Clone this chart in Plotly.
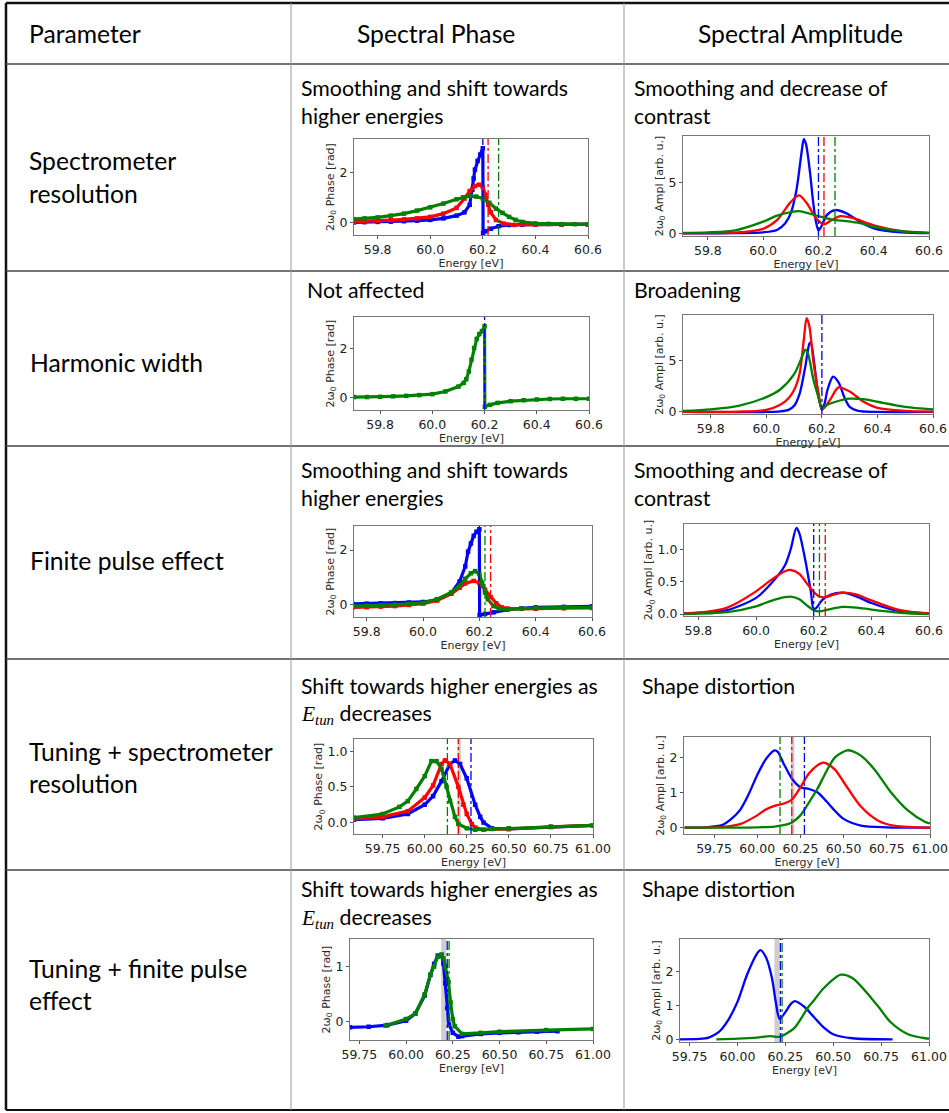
import plotly.graph_objects as go

W, H = 949, 1113
BLUE, RED, GREEN = "#0000ff", "#ff0000", "#008000"

# ---------------- data ----------------
# Row 1 : spectrometer resolution
p1_blue_x = [59.71, 59.75, 59.8, 59.85, 59.9, 59.95, 60.0, 60.05, 60.1, 60.13, 60.15, 60.16, 60.165, 60.17, 60.18, 60.19, 60.2, 60.201, 60.21, 60.23, 60.26, 60.3, 60.35, 60.4, 60.5, 60.6]
p1_blue_y = [0.0, 0.01, 0.02, 0.03, 0.05, 0.07, 0.1, 0.16, 0.27, 0.4, 0.7, 1.3, 1.75, 2.1, 2.45, 2.7, 2.95, -0.42, -0.35, -0.25, -0.15, -0.1, -0.09, -0.08, -0.08, -0.08]
p1_red_x = [59.71, 59.75, 59.8, 59.85, 59.9, 59.95, 60.0, 60.05, 60.1, 60.13, 60.15, 60.17, 60.185, 60.2, 60.21, 60.22, 60.23, 60.25, 60.28, 60.32, 60.4, 60.5, 60.6]
p1_red_y = [0.03, 0.04, 0.06, 0.09, 0.12, 0.16, 0.22, 0.35, 0.58, 0.95, 1.25, 1.45, 1.5, 1.4, 1.1, 0.7, 0.4, 0.1, -0.05, -0.1, -0.08, -0.08, -0.08]
p1_green_x = [59.71, 59.75, 59.8, 59.85, 59.9, 59.95, 60.0, 60.05, 60.1, 60.125, 60.15, 60.175, 60.2, 60.225, 60.25, 60.275, 60.3, 60.325, 60.35, 60.4, 60.45, 60.5, 60.55, 60.6]
p1_green_y = [0.13, 0.16, 0.2, 0.27, 0.35, 0.47, 0.6, 0.75, 0.92, 1.0, 1.05, 1.03, 0.95, 0.78, 0.55, 0.38, 0.22, 0.1, 0.02, -0.04, -0.06, -0.07, -0.07, -0.07]
p1_vlines = [60.2, 60.22, 60.26]

p2_blue_x = [59.71, 59.9, 60.0, 60.05, 60.08, 60.1, 60.12, 60.14, 60.147, 60.155, 60.17, 60.18, 60.19, 60.2, 60.21, 60.23, 60.26, 60.3, 60.35, 60.4, 60.5, 60.6]
p2_blue_y = [0.0, 0.02, 0.1, 0.33, 1.0, 2.0, 4.2, 8.2, 9.3, 8.8, 5.9, 3.3, 1.3, 0.3, 0.65, 1.8, 2.3, 2.0, 1.15, 0.5, 0.1, 0.02]
p2_red_x = [59.71, 59.8, 59.9, 60.0, 60.05, 60.1, 60.13, 60.16, 60.19, 60.22, 60.25, 60.28, 60.32, 60.4, 60.5, 60.6]
p2_red_y = [0.0, 0.02, 0.07, 0.45, 1.3, 3.1, 3.75, 2.9, 1.55, 0.9, 1.35, 1.7, 1.55, 0.8, 0.22, 0.05]
p2_green_x = [59.71, 59.8, 59.9, 60.0, 60.05, 60.1, 60.13, 60.2, 60.25, 60.3, 60.35, 60.4, 60.5, 60.6]
p2_green_y = [0.05, 0.1, 0.3, 1.15, 1.75, 2.1, 2.2, 1.7, 1.35, 1.2, 1.0, 0.65, 0.22, 0.05]
p2_vlines = [60.2, 60.22, 60.26]

# Row 2 : harmonic width
p3_green_x = [59.7, 59.75, 59.8, 59.85, 59.9, 59.95, 60.0, 60.05, 60.1, 60.12, 60.13, 60.14, 60.15, 60.16, 60.17, 60.18, 60.19, 60.2, 60.201, 60.22, 60.25, 60.3, 60.35, 60.4, 60.45, 60.5, 60.55, 60.6]
p3_green_y = [0.02, 0.02, 0.03, 0.05, 0.07, 0.1, 0.14, 0.25, 0.45, 0.6, 0.75, 1.07, 1.55, 2.03, 2.4, 2.6, 2.72, 2.92, -0.38, -0.3, -0.22, -0.15, -0.11, -0.08, -0.06, -0.05, -0.05, -0.05]
p3_vlines = [60.2]

p4_blue_x = [59.7, 60.0, 60.05, 60.08, 60.1, 60.12, 60.14, 60.155, 60.16, 60.17, 60.18, 60.19, 60.2, 60.21, 60.22, 60.24, 60.26, 60.28, 60.3, 60.33, 60.4, 60.6]
p4_blue_y = [0.0, 0.0, 0.05, 0.2, 0.6, 1.8, 4.4, 6.7, 6.8, 5.3, 3.1, 1.2, 0.2, 0.85, 2.15, 3.45, 2.9, 1.5, 0.5, 0.1, 0.0, 0.0]
p4_red_x = [59.7, 59.9, 60.0, 60.05, 60.08, 60.1, 60.12, 60.135, 60.145, 60.155, 60.17, 60.19, 60.2, 60.21, 60.23, 60.26, 60.3, 60.35, 60.4, 60.5, 60.6]
p4_red_y = [0.0, 0.03, 0.2, 0.7, 1.35, 2.15, 3.8, 7.1, 9.2, 8.4, 4.8, 1.5, 0.25, 0.45, 1.2, 2.4, 2.0, 1.0, 0.4, 0.1, 0.03]
p4_green_x = [59.7, 59.8, 59.9, 60.0, 60.05, 60.1, 60.13, 60.14, 60.15, 60.17, 60.19, 60.2, 60.22, 60.25, 60.3, 60.35, 60.4, 60.5, 60.6]
p4_green_y = [0.1, 0.26, 0.6, 1.45, 2.2, 3.7, 5.5, 6.1, 5.7, 3.1, 1.2, 0.35, 0.7, 1.0, 1.3, 1.25, 1.0, 0.5, 0.25]
p4_vlines = [60.2]

# Row 3 : finite pulse effect
p5_blue_x = [59.75, 59.8, 59.85, 59.9, 59.95, 60.0, 60.05, 60.1, 60.13, 60.15, 60.16, 60.17, 60.18, 60.19, 60.2, 60.201, 60.22, 60.25, 60.3, 60.35, 60.4, 60.5, 60.6]
p5_blue_y = [0.03, 0.04, 0.05, 0.06, 0.08, 0.1, 0.18, 0.42, 0.85, 1.4, 1.94, 2.24, 2.52, 2.67, 2.76, -0.38, -0.34, -0.28, -0.18, -0.13, -0.1, -0.08, -0.06]
p5_red_x = [59.75, 59.8, 59.85, 59.9, 59.95, 60.0, 60.05, 60.1, 60.13, 60.15, 60.18, 60.2, 60.22, 60.24, 60.26, 60.28, 60.3, 60.35, 60.4, 60.5, 60.6]
p5_red_y = [-0.1, -0.09, -0.07, -0.05, -0.01, 0.04, 0.15, 0.4, 0.62, 0.78, 0.87, 0.8, 0.55, 0.28, 0.05, -0.1, -0.14, -0.15, -0.15, -0.13, -0.12]
p5_green_x = [59.75, 59.8, 59.85, 59.9, 59.95, 60.0, 60.05, 60.1, 60.13, 60.15, 60.17, 60.185, 60.2, 60.21, 60.22, 60.23, 60.25, 60.27, 60.3, 60.35, 60.4, 60.5, 60.6]
p5_green_y = [-0.05, -0.04, -0.02, 0.0, 0.03, 0.07, 0.2, 0.45, 0.7, 0.95, 1.15, 1.23, 1.12, 0.8, 0.45, 0.2, -0.05, -0.15, -0.17, -0.14, -0.12, -0.1, -0.1]
p5_vlines = [60.2, 60.22, 60.24]

p6_blue_x = [59.75, 59.8, 59.9, 60.0, 60.05, 60.1, 60.12, 60.14, 60.15, 60.17, 60.19, 60.2, 60.21, 60.23, 60.26, 60.3, 60.35, 60.4, 60.5, 60.6]
p6_blue_y = [0.01, 0.02, 0.06, 0.25, 0.46, 0.75, 1.0, 1.33, 1.25, 0.85, 0.35, 0.07, 0.1, 0.22, 0.3, 0.33, 0.27, 0.17, 0.04, 0.01]
p6_red_x = [59.75, 59.8, 59.9, 60.0, 60.05, 60.1, 60.12, 60.15, 60.18, 60.2, 60.22, 60.24, 60.27, 60.3, 60.35, 60.4, 60.5, 60.6]
p6_red_y = [0.01, 0.02, 0.1, 0.35, 0.52, 0.66, 0.68, 0.62, 0.45, 0.34, 0.27, 0.26, 0.3, 0.33, 0.3, 0.21, 0.06, 0.01]
p6_green_x = [59.75, 59.9, 60.0, 60.05, 60.1, 60.12, 60.15, 60.18, 60.2, 60.22, 60.25, 60.3, 60.35, 60.4, 60.5, 60.6]
p6_green_y = [0.0, 0.03, 0.12, 0.2, 0.26, 0.27, 0.23, 0.12, 0.06, 0.04, 0.07, 0.11, 0.1, 0.07, 0.02, 0.0]
p6_vlines = [60.2, 60.22, 60.24]

# Row 4 : tuning + spectrometer resolution
p7_blue_x = [59.58, 59.75, 59.9, 60.0, 60.05, 60.1, 60.15, 60.18, 60.21, 60.25, 60.3, 60.33, 60.35, 60.4, 60.5, 60.75, 61.0]
p7_blue_y = [0.04, 0.06, 0.12, 0.25, 0.37, 0.58, 0.82, 0.87, 0.82, 0.62, 0.25, 0.08, 0.0, -0.08, -0.09, -0.06, -0.04]
p7_red_x = [59.58, 59.75, 59.9, 60.0, 60.05, 60.1, 60.12, 60.15, 60.2, 60.23, 60.25, 60.28, 60.3, 60.35, 60.5, 60.75, 61.0]
p7_red_y = [0.05, 0.08, 0.16, 0.35, 0.52, 0.82, 0.87, 0.82, 0.5, 0.25, 0.12, -0.02, -0.07, -0.1, -0.09, -0.06, -0.04]
p7_green_x = [59.58, 59.75, 59.85, 59.9, 59.95, 60.0, 60.04, 60.07, 60.1, 60.13, 60.15, 60.18, 60.2, 60.25, 60.3, 60.4, 60.5, 60.75, 61.0]
p7_green_y = [0.07, 0.12, 0.22, 0.3, 0.47, 0.65, 0.86, 0.86, 0.75, 0.5, 0.3, 0.08, -0.02, -0.08, -0.1, -0.09, -0.08, -0.06, -0.04]
p7_vlines = [60.275, 60.2, 60.135]
p7_band = [60.195, 60.215]

p8_blue_x = [59.58, 59.7, 59.8, 59.85, 59.9, 59.95, 60.0, 60.05, 60.1, 60.12, 60.15, 60.2, 60.25, 60.3, 60.35, 60.4, 60.45, 60.5, 60.6, 60.75, 61.0]
p8_blue_y = [0.0, 0.01, 0.08, 0.25, 0.5, 0.95, 1.5, 1.95, 2.2, 2.15, 1.85, 1.4, 1.15, 1.1, 1.0, 0.75, 0.48, 0.25, 0.06, 0.01, 0.0]
p8_red_x = [59.58, 59.8, 59.9, 60.0, 60.05, 60.1, 60.15, 60.2, 60.25, 60.3, 60.35, 60.38, 60.4, 60.45, 60.5, 60.6, 60.7, 60.8, 61.0]
p8_red_y = [0.0, 0.02, 0.1, 0.35, 0.52, 0.62, 0.68, 0.8, 1.15, 1.55, 1.78, 1.85, 1.83, 1.65, 1.3, 0.6, 0.2, 0.05, 0.0]
p8_green_x = [59.58, 60.0, 60.1, 60.15, 60.2, 60.25, 60.3, 60.35, 60.4, 60.45, 60.52, 60.55, 60.6, 60.68, 60.77, 60.87, 60.97, 61.0]
p8_green_y = [0.0, 0.01, 0.03, 0.07, 0.15, 0.35, 0.72, 1.12, 1.6, 2.0, 2.2, 2.18, 2.05, 1.65, 1.03, 0.5, 0.17, 0.12]
p8_vlines = [60.273, 60.2, 60.132]
p8_band = [60.195, 60.215]

# Row 5 : tuning + finite pulse effect
p9_blue_x = [59.7, 59.8, 59.9, 60.0, 60.05, 60.1, 60.13, 60.15, 60.17, 60.19, 60.2, 60.21, 60.22, 60.23, 60.25, 60.28, 60.3, 60.4, 60.5, 60.6, 60.7, 60.81]
p9_blue_y = [-0.1, -0.09, -0.06, 0.02, 0.15, 0.48, 0.85, 1.05, 1.2, 1.2, 1.05, 0.7, 0.25, -0.05, -0.2, -0.27, -0.26, -0.22, -0.2, -0.19, -0.18, -0.17]
p9_green_x = [59.89, 60.0, 60.05, 60.1, 60.13, 60.15, 60.17, 60.19, 60.2, 60.21, 60.227, 60.238, 60.25, 60.26, 60.3, 60.4, 60.5, 60.75, 61.0]
p9_green_y = [-0.07, 0.05, 0.15, 0.5, 0.85, 1.0, 1.18, 1.22, 1.15, 1.0, 0.72, 0.35, 0.05, -0.08, -0.22, -0.2, -0.18, -0.15, -0.13]
p9_vlines = [60.22, 60.23]
p9_band = [60.188, 60.215]

p10_blue_x = [59.7, 59.8, 59.85, 59.9, 59.95, 60.0, 60.05, 60.1, 60.12, 60.15, 60.18, 60.2, 60.22, 60.25, 60.28, 60.3, 60.35, 60.4, 60.45, 60.5, 60.6, 60.81]
p10_blue_y = [0.0, 0.01, 0.05, 0.2, 0.55, 1.1, 1.9, 2.5, 2.62, 2.4, 1.8, 1.1, 0.6, 0.8, 1.05, 1.12, 0.95, 0.65, 0.35, 0.15, 0.03, 0.0]
p10_green_x = [59.89, 60.0, 60.1, 60.17, 60.22, 60.25, 60.3, 60.37, 60.4, 60.45, 60.54, 60.6, 60.73, 60.8, 60.89, 60.98, 61.0]
p10_green_y = [0.0, 0.02, 0.05, 0.09, 0.07, 0.15, 0.35, 0.95, 1.15, 1.5, 1.9, 1.8, 1.0, 0.5, 0.15, 0.03, 0.02]
p10_vlines = [60.224, 60.233]
p10_band = [60.193, 60.22]

xt_a = [59.8, 60.0, 60.2, 60.4, 60.6]
xt_b = [59.75, 60.0, 60.25, 60.5, 60.75, 61.0]

# ---------------- layout helpers ----------------
def px(x):
    return x / W

def py(y):
    return 1 - y / H

PH = "phase"
AM = "amp"
panels = [
    dict(box=(354, 139, 588, 235), xr=[59.71, 60.6], yr=[-0.5, 3.32], xt=xt_a, xf=".1f", yt=[0, 2], yf="d", kind=PH,
         curves=[(p1_blue_x, p1_blue_y, BLUE), (p1_red_x, p1_red_y, RED), (p1_green_x, p1_green_y, GREEN)],
         vl=list(zip(p1_vlines, [BLUE, RED, GREEN])), band=None),
    dict(box=(683, 136, 929, 236), xr=[59.71, 60.6], yr=[-0.26, 9.6], xt=xt_a, xf=".1f", yt=[0, 5], yf="d", kind=AM,
         curves=[(p2_blue_x, p2_blue_y, BLUE), (p2_red_x, p2_red_y, RED), (p2_green_x, p2_green_y, GREEN)],
         vl=list(zip(p2_vlines, [BLUE, RED, GREEN])), band=None),
    dict(box=(354, 317, 589, 410), xr=[59.7, 60.6], yr=[-0.51, 3.3], xt=xt_a, xf=".1f", yt=[0, 2], yf="d", kind=PH,
         curves=[(p3_green_x, p3_green_y, GREEN)],
         vl=list(zip(p3_vlines, [BLUE])), band=None),
    dict(box=(683, 315, 933, 414), xr=[59.7, 60.6], yr=[-0.2, 9.5], xt=xt_a, xf=".1f", yt=[0, 5], yf="d", kind=AM,
         curves=[(p4_blue_x, p4_blue_y, BLUE), (p4_red_x, p4_red_y, RED), (p4_green_x, p4_green_y, GREEN)],
         vl=list(zip(p4_vlines, [BLUE])), band=None),
    dict(box=(354, 526, 592, 617), xr=[59.755, 60.6], yr=[-0.45, 2.88], xt=xt_a, xf=".1f", yt=[0, 2], yf="d", kind=PH,
         curves=[(p5_blue_x, p5_blue_y, BLUE), (p5_red_x, p5_red_y, RED), (p5_green_x, p5_green_y, GREEN)],
         vl=list(zip(p5_vlines, [BLUE, GREEN, RED])), band=None),
    dict(box=(684, 524, 929, 616), xr=[59.75, 60.6], yr=[-0.03, 1.39], xt=xt_a, xf=".1f", yt=[0, 0.5, 1.0], yf=".1f", kind=AM,
         curves=[(p6_blue_x, p6_blue_y, BLUE), (p6_red_x, p6_red_y, RED), (p6_green_x, p6_green_y, GREEN)],
         vl=list(zip(p6_vlines, [BLUE, GREEN, RED])), band=None),
    dict(box=(354, 739, 593, 834), xr=[59.58, 61.0], yr=[-0.16, 1.17], xt=xt_b, xf=".2f", yt=[0, 0.5, 1.0], yf=".1f", kind=PH,
         curves=[(p7_blue_x, p7_blue_y, BLUE), (p7_red_x, p7_red_y, RED), (p7_green_x, p7_green_y, GREEN)],
         vl=list(zip(p7_vlines, [BLUE, RED, GREEN])), band=p7_band),
    dict(box=(684, 737, 930, 834), xr=[59.576, 61.0], yr=[-0.18, 2.58], xt=xt_b, xf=".2f", yt=[0, 1, 2], yf="d", kind=AM,
         curves=[(p8_blue_x, p8_blue_y, BLUE), (p8_red_x, p8_red_y, RED), (p8_green_x, p8_green_y, GREEN)],
         vl=list(zip(p8_vlines, [BLUE, RED, GREEN])), band=p8_band),
    dict(box=(350, 939, 593, 1040), xr=[59.7, 61.0], yr=[-0.33, 1.5], xt=xt_b, xf=".2f", yt=[0, 1], yf="d", kind=PH,
         curves=[(p9_blue_x, p9_blue_y, BLUE), (p9_green_x, p9_green_y, GREEN)],
         vl=list(zip(p9_vlines, [BLUE, GREEN])), band=p9_band),
    dict(box=(680, 939, 929, 1042), xr=[59.7, 61.0], yr=[-0.08, 2.95], xt=xt_b, xf=".2f", yt=[0, 1, 2], yf="d", kind=AM,
         curves=[(p10_blue_x, p10_blue_y, BLUE), (p10_green_x, p10_green_y, GREEN)],
         vl=list(zip(p10_vlines, [BLUE, GREEN])), band=p10_band),
]

fig = go.Figure()
shapes = []
layout_axes = {}
TICKFONT = dict(family="DejaVu Sans", size=12.5, color="#222")
TITLEFONT = dict(family="DejaVu Sans", size=11, color="#2a2a2a")

for i, p in enumerate(panels, start=1):
    xa = "x" if i == 1 else f"x{i}"
    ya = "y" if i == 1 else f"y{i}"
    xk = "xaxis" if i == 1 else f"xaxis{i}"
    yk = "yaxis" if i == 1 else f"yaxis{i}"
    l, t, r, b = p["box"]
    if p["band"] is not None:
        shapes.append(dict(type="rect", xref=xa, yref=f"{ya} domain", x0=p["band"][0], x1=p["band"][1],
                           y0=0, y1=1, fillcolor="rgba(190,190,190,0.75)", line=dict(width=0), layer="below"))
    for (cx, cy, col) in p["curves"]:
        if p["kind"] == PH:
            fig.add_trace(go.Scatter(x=cx, y=cy, xaxis=xa, yaxis=ya, mode="lines+markers",
                                     line=dict(color=col, width=3.2),
                                     marker=dict(symbol="square", size=4.5, color=col),
                                     showlegend=False, hoverinfo="skip"))
        else:
            fig.add_trace(go.Scatter(x=cx, y=cy, xaxis=xa, yaxis=ya, mode="lines",
                                     line=dict(color=col, width=2.3, shape="spline", smoothing=0.8),
                                     showlegend=False, hoverinfo="skip"))
    for (vx, col) in p["vl"]:
        shapes.append(dict(type="line", xref=xa, yref=f"{ya} domain", x0=vx, x1=vx, y0=0, y1=1,
                           line=dict(color=col, width=1.3, dash="dashdot")))
    layout_axes[xk] = dict(domain=[px(l), px(r)], anchor=ya, range=p["xr"], tickvals=p["xt"],
                           tickformat=p["xf"], showline=True, mirror=True, linecolor="#777", linewidth=1,
                           ticks="outside", ticklen=3, tickcolor="#555", showgrid=False, zeroline=False,
                           tickfont=TICKFONT, automargin=False,
                           title=dict(text="Energy [eV]", font=TITLEFONT, standoff=0))
    ytitle = "2ω<sub>0</sub> Phase [rad]" if p["kind"] == PH else "2ω<sub>0</sub> Ampl [arb. u.]"
    layout_axes[yk] = dict(domain=[py(b), py(t)], anchor=xa, range=p["yr"], tickvals=p["yt"],
                           tickformat=p["yf"], showline=True, mirror=True, linecolor="#777", linewidth=1,
                           ticks="outside", ticklen=3, tickcolor="#555", showgrid=False, zeroline=False,
                           tickfont=TICKFONT, automargin=False,
                           title=dict(text=ytitle, font=TITLEFONT, standoff=2))

# ---------------- table grid ----------------
def hline(y, x0, x1, color, w):
    shapes.append(dict(type="line", xref="paper", yref="paper", x0=px(x0), x1=px(x1), y0=py(y), y1=py(y),
                       line=dict(color=color, width=w)))

def vline(x, y0, y1, color, w):
    shapes.append(dict(type="line", xref="paper", yref="paper", x0=px(x), x1=px(x), y0=py(y0), y1=py(y1),
                       line=dict(color=color, width=w)))

hline(3, 6, 949, "#111", 2.5)
vline(6, 3, 1110, "#111", 2.5)
hline(1110, 6, 949, "#111", 2)
for yy in [64, 271, 446, 659, 870]:
    hline(yy, 6, 949, "#444", 1.6)
for xx in [291, 624]:
    vline(xx, 3, 1110, "#999", 1)

# ---------------- text ----------------
annots = []
BIG = dict(family="Lato", size=24.7, color="#000")
MID = dict(family="Lato", size=21.3, color="#000")

def txt(s, x, y, font, anchor="left"):
    annots.append(dict(text=s, x=px(x), y=py(y), xref="paper", yref="paper", showarrow=False,
                       xanchor=anchor, yanchor="middle", font=font))

txt("Parameter", 27, 34, BIG)
txt("Spectral Phase", 436, 34, BIG, "center")
txt("Spectral Amplitude", 800, 34, BIG, "center")

txt("Spectrometer", 27, 160, BIG)
txt("resolution", 27, 193, BIG)
txt("Harmonic width", 28, 362, BIG)
txt("Finite pulse effect", 28, 560, BIG)
txt("Tuning + spectrometer", 27, 751, BIG)
txt("resolution", 27, 783, BIG)
txt("Tuning + finite pulse", 27, 968, BIG)
txt("effect", 27, 1000, BIG)

ETUN = "<span style='font-family:Liberation Serif'><i>E</i><sub><i>tun</i></sub></span> decreases"
txt("Smoothing and shift towards", 299, 88, MID)
txt("higher energies", 299, 116, MID)
txt("Not affected", 305, 290, MID)
txt("Smoothing and shift towards", 299, 470, MID)
txt("higher energies", 299, 498, MID)
txt("Shift towards higher energies as", 299, 686, MID)
txt(ETUN, 299, 714, MID)
txt("Shift towards higher energies as", 299, 889, MID)
txt(ETUN, 299, 918, MID)

txt("Smoothing and decrease of", 632, 88, MID)
txt("contrast", 632, 116, MID)
txt("Broadening", 632, 290, MID)
txt("Smoothing and decrease of", 632, 470, MID)
txt("contrast", 632, 498, MID)
txt("Shape distortion", 640, 686, MID)
txt("Shape distortion", 640, 889, MID)

fig.update_layout(width=W, height=H, margin=dict(l=0, r=0, t=0, b=0, autoexpand=False),
                  paper_bgcolor="white", plot_bgcolor="white",
                  shapes=shapes, annotations=annots, **layout_axes)

fig.write_html("out.html", config={"displayModeBar": False},
               post_script="document.body.style.margin='0';document.body.style.overflow='hidden';")
